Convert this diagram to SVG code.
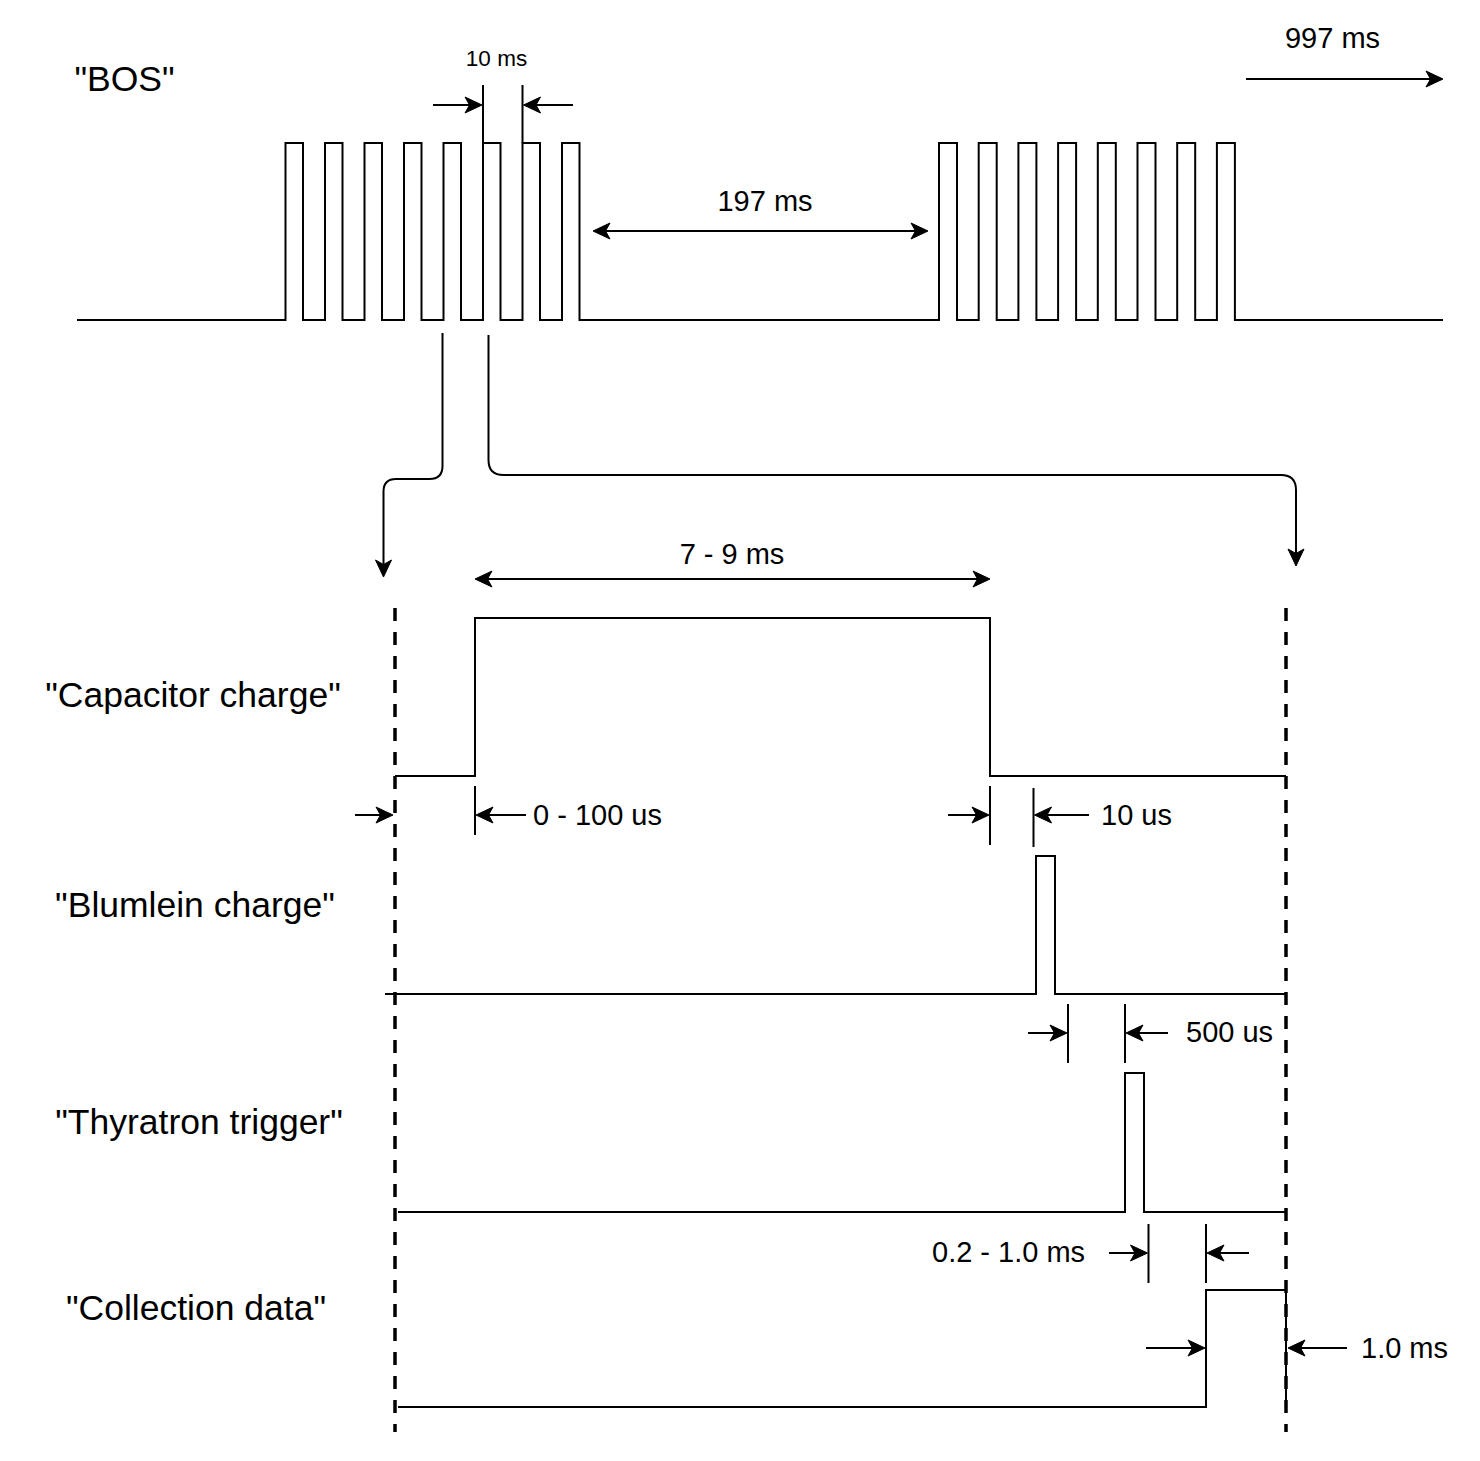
<svg xmlns="http://www.w3.org/2000/svg" xmlns:xlink="http://www.w3.org/1999/xlink" width="1480" height="1461" viewBox="0 0 1480 1461">
<style>
.w{fill:none;stroke:#000;stroke-width:2}
.d{fill:none;stroke:#000;stroke-width:3.5;stroke-dasharray:13 11}
.hd{fill:#000;stroke:#000;stroke-width:1;stroke-linejoin:miter}
.lbl{font-family:"Liberation Sans",Arial,Helvetica,sans-serif;font-size:35.5px;fill:#000}
.m{font-family:"Liberation Sans",Arial,Helvetica,sans-serif;font-size:29px;fill:#000}
.s{font-family:"Liberation Sans",Arial,Helvetica,sans-serif;font-size:22.5px;fill:#000}
</style>
<defs>
<path id="hd" class="hd" d="M0,0 L-17,-8 L-12.5,0 L-17,8 Z"/>
</defs>
<rect width="1480" height="1461" fill="#fff"/>

<g id="bos">
<text class="lbl" x="124.5" y="91" text-anchor="middle">"BOS"</text>
<path class="w" d="M77,320 H285.5 V143 H303 V320 H325 V143 H342.5 V320 H364.5 V143 H382 V320 H404 V143 H421.5 V320 H443.5 V143 H461 V320 H483 V143 H500.5 V320 H522.5 V143 H540 V320 H562 V143 H579.5 V320 H939 V143 H957 V320 H978.7 V143 H996.7 V320 H1018.4 V143 H1036.4 V320 H1058.1 V143 H1076.1 V320 H1097.8 V143 H1115.8 V320 H1137.5 V143 H1155.5 V320 H1177.2 V143 H1195.2 V320 H1216.9 V143 H1234.9 V320 H1443"/>
</g>

<g id="dim-10ms">
<text class="s" x="496.5" y="66" text-anchor="middle">10 ms</text>
<line class="w" x1="483" y1="85" x2="483" y2="143"/>
<line class="w" x1="522.5" y1="85" x2="522.5" y2="143"/>
<line class="w" x1="433" y1="105" x2="472" y2="105"/>
<use xlink:href="#hd" href="#hd" transform="translate(482,105)"/>
<line class="w" x1="573" y1="105" x2="533" y2="105"/>
<use xlink:href="#hd" href="#hd" transform="translate(523.5,105) rotate(180)"/>
</g>

<g id="dim-997ms">
<text class="m" x="1332.5" y="48" text-anchor="middle">997 ms</text>
<line class="w" x1="1246" y1="79" x2="1433" y2="79"/>
<use xlink:href="#hd" href="#hd" transform="translate(1443,79)"/>
</g>

<g id="dim-197ms">
<text class="m" x="765" y="211" text-anchor="middle">197 ms</text>
<line class="w" x1="603" y1="231" x2="918" y2="231"/>
<use xlink:href="#hd" href="#hd" transform="translate(593,231) rotate(180)"/>
<use xlink:href="#hd" href="#hd" transform="translate(928,231)"/>
</g>

<g id="capacitor">
<text class="lbl" x="193" y="707" text-anchor="middle">"Capacitor charge"</text>
<path class="w" d="M395,776 H475 V618 H990 V776 H1286"/>
</g>

<g id="dim-7-9ms">
<text class="m" x="732" y="564" text-anchor="middle">7 - 9 ms</text>
<line class="w" x1="485" y1="579" x2="980" y2="579"/>
<use xlink:href="#hd" href="#hd" transform="translate(475,579) rotate(180)"/>
<use xlink:href="#hd" href="#hd" transform="translate(990,579)"/>
</g>

<g id="blumlein">
<text class="lbl" x="195" y="917" text-anchor="middle">"Blumlein charge"</text>
<path class="w" d="M385,994 H1036 V856 H1055 V994 H1286"/>
</g>

<g id="thyratron">
<text class="lbl" x="199" y="1134" text-anchor="middle">"Thyratron trigger"</text>
<path class="w" d="M398,1212 H1125 V1073 H1144 V1212 H1286"/>
</g>

<g id="collection">
<text class="lbl" x="196" y="1320" text-anchor="middle">"Collection data"</text>
<path class="w" d="M398,1407 H1206 V1290 H1286 V1407"/>
</g>

<g id="dashed">
<line class="d" x1="395" y1="608" x2="395" y2="1432"/>
<line class="d" x1="1286" y1="608" x2="1286" y2="1432"/>
</g>

<g id="dim-0-100us">
<line class="w" x1="475" y1="786" x2="475" y2="835"/>
<line class="w" x1="526" y1="815" x2="486" y2="815"/>
<use xlink:href="#hd" href="#hd" transform="translate(476,815) rotate(180)"/>
<text class="m" x="533" y="825">0 - 100 us</text>
<line class="w" x1="355" y1="815" x2="383" y2="815"/>
<use xlink:href="#hd" href="#hd" transform="translate(393,815)"/>
</g>

<g id="dim-10us">
<line class="w" x1="990" y1="786" x2="990" y2="845"/>
<line class="w" x1="1033.5" y1="788" x2="1033.5" y2="847"/>
<line class="w" x1="948" y1="815" x2="979" y2="815"/>
<use xlink:href="#hd" href="#hd" transform="translate(989,815)"/>
<line class="w" x1="1089" y1="815" x2="1044" y2="815"/>
<use xlink:href="#hd" href="#hd" transform="translate(1034.5,815) rotate(180)"/>
<text class="m" x="1101" y="825">10 us</text>
</g>

<g id="dim-500us">
<line class="w" x1="1068" y1="1004" x2="1068" y2="1063"/>
<line class="w" x1="1125" y1="1004" x2="1125" y2="1063"/>
<line class="w" x1="1028" y1="1033" x2="1057" y2="1033"/>
<use xlink:href="#hd" href="#hd" transform="translate(1067,1033)"/>
<line class="w" x1="1168" y1="1033" x2="1136" y2="1033"/>
<use xlink:href="#hd" href="#hd" transform="translate(1126,1033) rotate(180)"/>
<text class="m" x="1186" y="1041.5">500 us</text>
</g>

<g id="dim-0.2-1.0ms">
<text class="m" x="932" y="1262">0.2 - 1.0 ms</text>
<line class="w" x1="1148.5" y1="1224" x2="1148.5" y2="1283"/>
<line class="w" x1="1206" y1="1224" x2="1206" y2="1283"/>
<line class="w" x1="1109" y1="1253" x2="1137" y2="1253"/>
<use xlink:href="#hd" href="#hd" transform="translate(1147.5,1253)"/>
<line class="w" x1="1249" y1="1253" x2="1217" y2="1253"/>
<use xlink:href="#hd" href="#hd" transform="translate(1207,1253) rotate(180)"/>
</g>

<g id="dim-1.0ms">
<line class="w" x1="1146" y1="1348" x2="1195" y2="1348"/>
<use xlink:href="#hd" href="#hd" transform="translate(1205,1348)"/>
<line class="w" x1="1347" y1="1348" x2="1298" y2="1348"/>
<use xlink:href="#hd" href="#hd" transform="translate(1288,1348) rotate(180)"/>
<text class="m" x="1361" y="1357.5">1.0 ms</text>
</g>

<g id="connectors">
<path class="w" d="M442.5,333 V466 Q442.5,479 429.5,479 H396 Q383.5,479 383.5,491.5 V567"/>
<use xlink:href="#hd" href="#hd" transform="translate(383.5,577) rotate(90)"/>
<path class="w" d="M488.5,335 V460 Q488.5,475 503.5,475 H1281 Q1296,475 1296,490 V556"/>
<use xlink:href="#hd" href="#hd" transform="translate(1296,566) rotate(90)"/>
</g>
</svg>
